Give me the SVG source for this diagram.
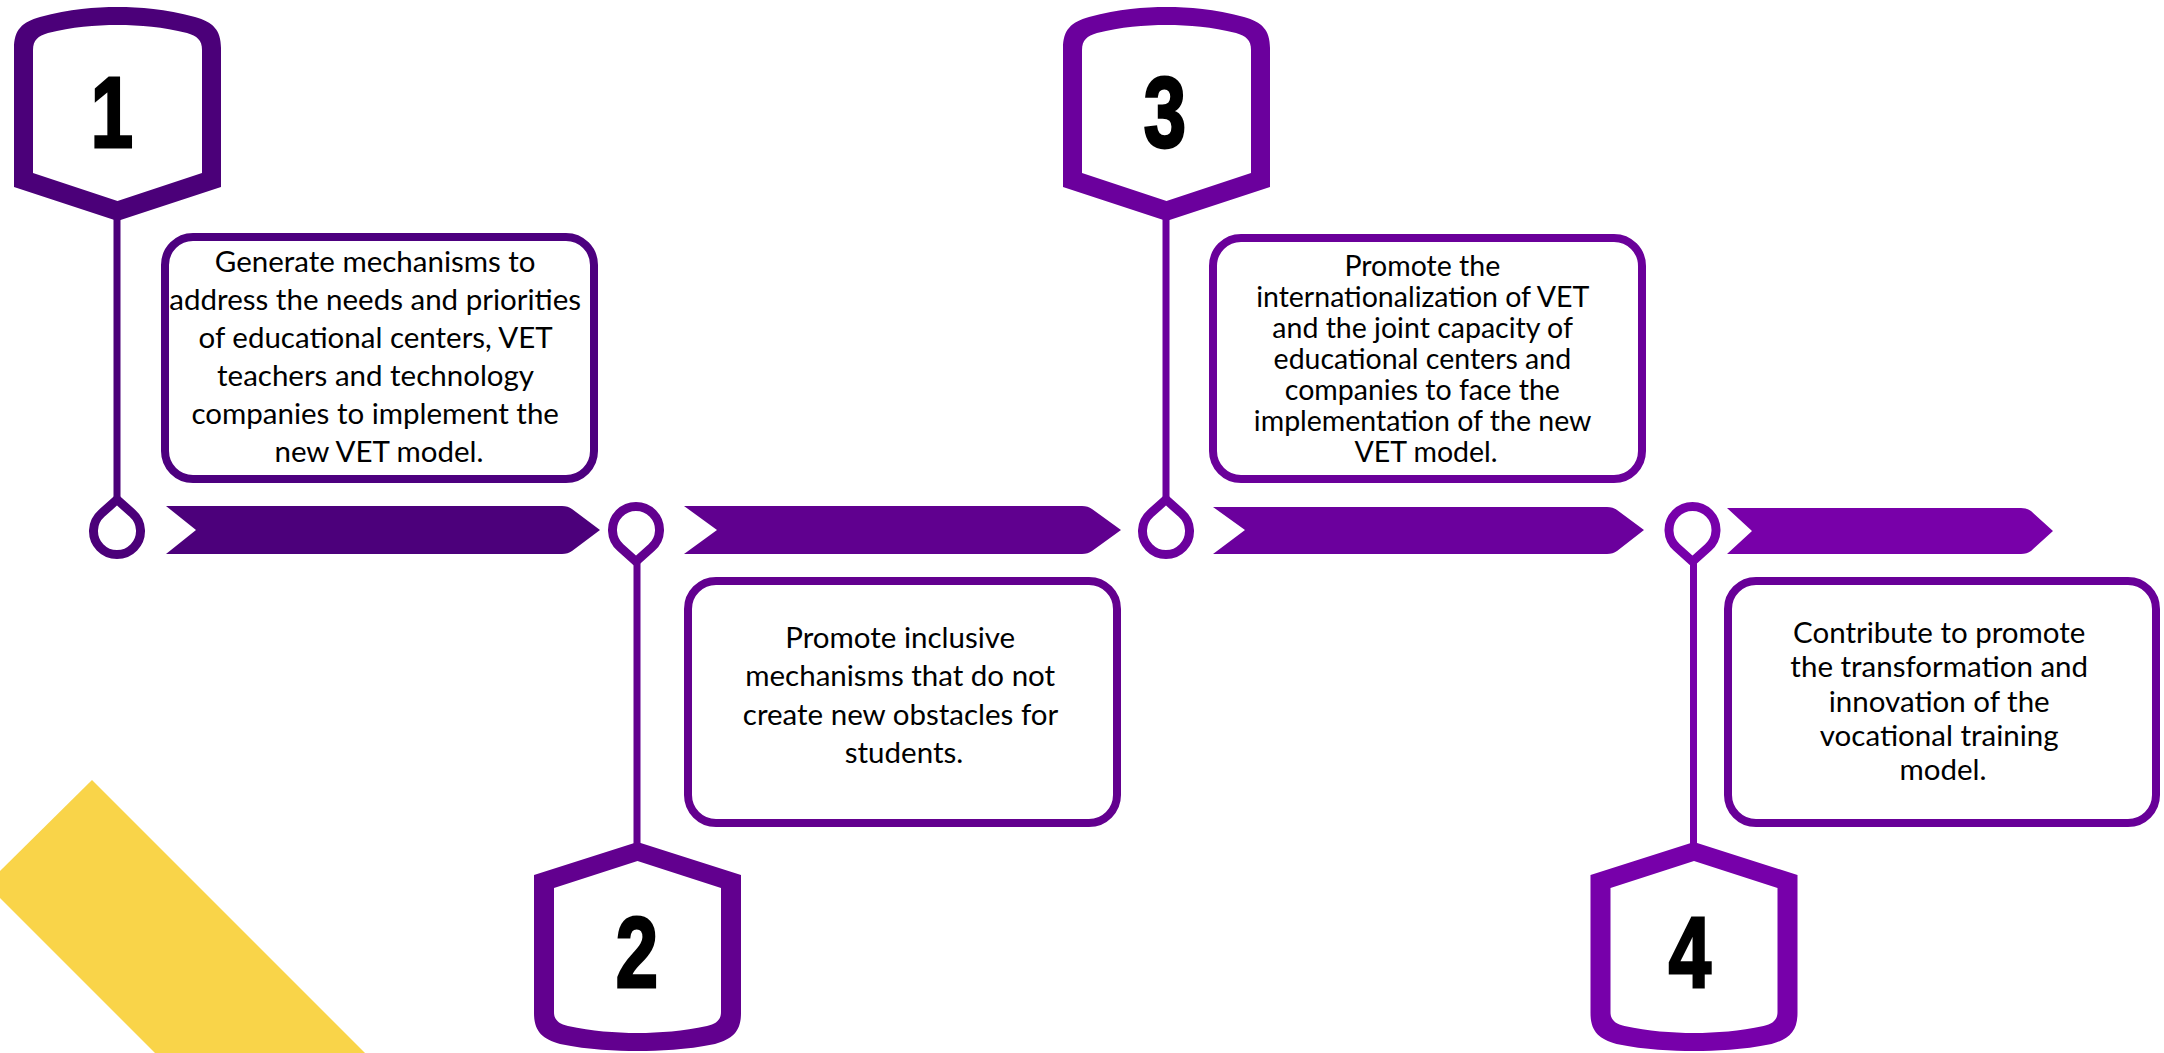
<svg xmlns="http://www.w3.org/2000/svg" xmlns:xlink="http://www.w3.org/1999/xlink" width="2164" height="1053" viewBox="0 0 2164 1053">
<style>
.card{fill:#fff;stroke-width:8}
.txt{font-family:Lato,"Liberation Sans",sans-serif;font-size:29.5px;fill:#000;text-anchor:middle}
.txt.tight{font-size:28.5px}
.num{font-family:"Liberation Sans",Arial,sans-serif;font-weight:bold;font-size:100px;fill:#000;stroke:#000;stroke-width:3;text-anchor:middle}
.stem{fill:none;stroke-width:7}
.ring{fill:none;stroke-width:9;stroke-linejoin:round}
.badge{fill-rule:evenodd}
</style>
<defs>
<path id="badge-down" d="M-103.5,187 L-103.5,48 C-103.5,30 -95.5,22 -77.5,17 C-47.5,9 -22.5,7 0,7 C22.5,7 47.5,9 77.5,17 C95.5,22 103.5,30 103.5,48 L103.5,187 L0,221 Z M-84.5,173 L-84.5,50 C-84.5,40 -79.5,36 -69.5,33 C-45.5,27 -22.5,25 0,25 C22.5,25 45.5,27 69.5,33 C79.5,36 84.5,40 84.5,50 L84.5,173 L0,201 Z"/>
<path id="badge-up" d="M-103.5,875 L0,842 L103.5,875 L103.5,1013 C103.5,1031 95.5,1039 77.5,1044 C47.5,1050 22.5,1051 0,1051 C-22.5,1051 -47.5,1050 -77.5,1044 C-95.5,1039 -103.5,1031 -103.5,1013 Z M-83.5,888 L0,861 L83.5,888 L83.5,1012 C83.5,1020 78.5,1024 69.5,1026 C45.5,1031 22.5,1033 0,1033 C-22.5,1033 -45.5,1031 -69.5,1026 C-78.5,1024 -83.5,1020 -83.5,1012 Z"/>
<path id="drop-up" d="M0,-31.5 L15.6,-17.5 A23.5,23.5 0 1 1 -15.6,-17.5 Z"/>
<path id="drop-down" d="M0,31.5 L15.6,17.5 A23.5,23.5 0 1 0 -15.6,17.5 Z"/>
</defs>

<polygon id="decoration" points="92,780 365,1053 155,1053 0,898 0,871" fill="#F9D449"/>

<g id="connectors">
<path id="arrow-1" fill="#4C007B" d="M166,506 L562,506 Q568,506 572,509 L600,530 L572,551 Q568,554 562,554 L166,554 L196,530 Z"/>
<path id="arrow-2" fill="#60008F" d="M684,506 L1082,506 Q1088,506 1092,509 L1121,530 L1092,551 Q1088,554 1082,554 L684,554 L717,530 Z"/>
<path id="arrow-3" fill="#6B009D" d="M1213,507 L1607,507 Q1613,507 1617,510 L1644,530 L1617,551 Q1613,554 1607,554 L1213,554 L1245,530 Z"/>
<path id="arrow-4" fill="#7800A9" d="M1727,508 L2021,508 Q2027,508 2031,511 L2053,531 L2031,551 Q2027,554 2021,554 L1727,554 L1752,531 Z"/>
</g>

<g id="milestone-1" fill="#4B0079" stroke="#4B0079">
<use href="#badge-down" class="badge" transform="translate(117.5,0)" stroke="none"/>
<line class="stem" x1="117" y1="219" x2="117" y2="500"/>
<use href="#drop-up" class="ring" transform="translate(117,531)"/>
<text class="num" transform="translate(112,147) scale(0.76,1)" x="0" y="0">1</text>
</g>
<g id="card-1">
<rect class="card" stroke="#4D007F" x="165" y="237" width="429" height="242" rx="28"/>
<text class="txt" x="379">
<tspan x="379" y="272">Generate mechanisms to</tspan>
<tspan x="379" y="310">address the needs and priorities</tspan>
<tspan x="379" y="348">of educational centers, VET</tspan>
<tspan x="379" y="386">teachers and technology</tspan>
<tspan x="379" y="424">companies to implement the</tspan>
<tspan x="379" y="462">new VET model.</tspan>
</text>
</g>

<g id="milestone-2" fill="#62008F" stroke="#62008F">
<use href="#badge-up" class="badge" transform="translate(637.5,0)" stroke="none"/>
<line class="stem" x1="637" y1="560" x2="637" y2="844"/>
<use href="#drop-down" class="ring" transform="translate(636,530)"/>
<text class="num" transform="translate(637,987) scale(0.76,1)" x="0" y="0">2</text>
</g>
<g id="card-2">
<rect class="card" stroke="#63008F" x="688" y="581" width="429" height="242" rx="28"/>
<text class="txt" x="904">
<tspan x="904" y="648">Promote inclusive</tspan>
<tspan x="904" y="686">mechanisms that do not</tspan>
<tspan x="904" y="725">create new obstacles for</tspan>
<tspan x="904" y="763">students.</tspan>
</text>
</g>

<g id="milestone-3" fill="#6B009D" stroke="#6B009D">
<use href="#badge-down" class="badge" transform="translate(1166.5,0)" stroke="none"/>
<line class="stem" x1="1166" y1="219" x2="1166" y2="500"/>
<use href="#drop-up" class="ring" transform="translate(1166,531)"/>
<text class="num" transform="translate(1165,147) scale(0.76,1)" x="0" y="0">3</text>
</g>
<g id="card-3">
<rect class="card" stroke="#6A009A" x="1213" y="238" width="429" height="241" rx="28"/>
<text class="txt tight" x="1426">
<tspan x="1426" y="276">Promote the</tspan>
<tspan x="1426" y="307">internationalization of VET</tspan>
<tspan x="1426" y="338">and the joint capacity of</tspan>
<tspan x="1426" y="369">educational centers and</tspan>
<tspan x="1426" y="400">companies to face the</tspan>
<tspan x="1426" y="431">implementation of the new</tspan>
<tspan x="1426" y="462">VET model.</tspan>
</text>
</g>

<g id="milestone-4" fill="#7700AA" stroke="#7700AA">
<use href="#badge-up" class="badge" transform="translate(1694,0)" stroke="none"/>
<line class="stem" x1="1693.5" y1="560" x2="1693.5" y2="844"/>
<use href="#drop-down" class="ring" transform="translate(1692.5,530)"/>
<text class="num" transform="translate(1690,987) scale(0.76,1)" x="0" y="0">4</text>
</g>
<g id="card-4">
<rect class="card" stroke="#680098" x="1728" y="581" width="428" height="242" rx="28"/>
<text class="txt" x="1943">
<tspan x="1943" y="643">Contribute to promote</tspan>
<tspan x="1943" y="677">the transformation and</tspan>
<tspan x="1943" y="712">innovation of the</tspan>
<tspan x="1943" y="746">vocational training</tspan>
<tspan x="1943" y="780">model.</tspan>
</text>
</g>
</svg>
